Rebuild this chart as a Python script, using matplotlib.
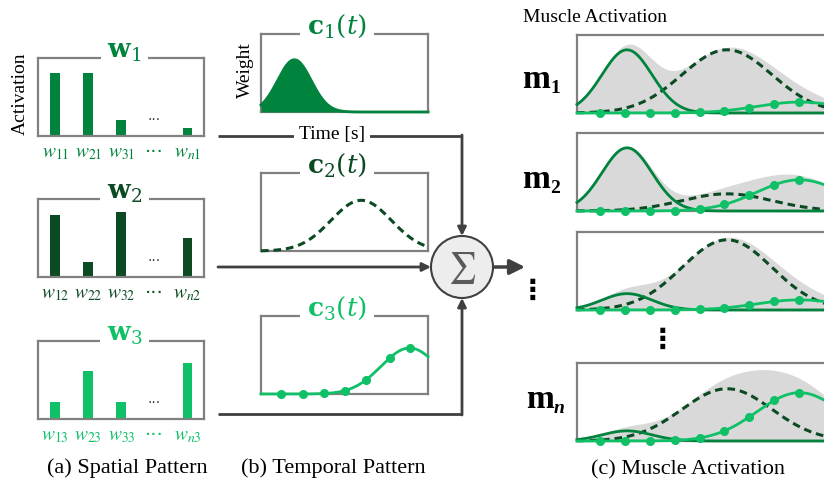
import numpy as np
import matplotlib.pyplot as plt
from matplotlib.patches import Circle

W, H = 824, 486

# spatial patterns: bar heights (fraction of the box height)
w1 = [0.81, 0.81, 0.21, 0.10]
w2 = [0.79, 0.19, 0.87, 0.50]
w3 = [0.22, 0.62, 0.22, 0.72]
bar_pos = [0, 1, 2, 4]
row_ids = ['1', '2', '3']

# temporal patterns: peak time, spread, peak height (inside their own box)
c_peak = [0.20, 0.60, 0.89]
c_width = [0.10, 0.18, 0.17]
c_height = [0.67, 0.65, 0.59]
c3_marks = [0.12, 0.25, 0.38, 0.50, 0.63, 0.77, 0.89]

# muscle activations: height of each temporal pattern in m1, m2, (m3), mn
m_ids = ['1', '2', None, 'n']
m_c1 = [0.81, 0.81, 0.21, 0.13]
m_c2 = [0.81, 0.22, 0.90, 0.67]
m_c3 = [0.14, 0.40, 0.13, 0.62]
m_marks = [0.09, 0.19, 0.29, 0.39, 0.49, 0.59, 0.69, 0.79, 0.89]

G1, G2, G3 = '#00843D', '#0B4A22', '#0FC067'
GREENS = [G1, G2, G3]
EDGE = '#808080'
DARK = '#404040'
SERIF = 'Liberation Serif'

plt.rcParams['mathtext.fontset'] = 'dejavuserif'

fig = plt.figure(figsize=(W / 100, H / 100), dpi=100)
# overlay axes in pixel units, drawn above the panels
bg = fig.add_axes([0, 0, 1, 1], zorder=2)
bg.set_xlim(0, W)
bg.set_ylim(H, 0)
bg.axis('off')
bg.patch.set_facecolor('none')


def box(l, t, r, b):
    ax = fig.add_axes([l / W, 1 - b / H, (r - l) / W, (b - t) / H], zorder=1)
    ax.set_facecolor('none')
    for s in ax.spines.values():
        s.set_color(EDGE)
        s.set_linewidth(1.6)
    ax.set_xticks([])
    ax.set_yticks([])
    ax.set_ylim(0, 1)
    return ax


def title(ax, s, x, color):
    ax.text(x, 1.0, s, transform=ax.transAxes, ha='center', va='baseline',
            fontsize=19, color=color, clip_on=False, zorder=5,
            bbox=dict(boxstyle='square,pad=0.25', facecolor='white', edgecolor='none'))


def gauss(t, k, amp):
    t = np.asarray(t)
    return amp * np.exp(-(t - c_peak[k]) ** 2 / (2 * c_width[k] ** 2))


# ---- (a) spatial patterns
w_tops = [58, 199, 341]
for i, vals in enumerate([w1, w2, w3]):
    ax = box(38, w_tops[i], 204, w_tops[i] + 78)
    ax.bar(bar_pos, vals, width=0.3, color=GREENS[i], zorder=2)
    ax.set_xlim(-0.52, 4.5)
    ax.text(3, 0.2, '···', ha='center', va='center', fontsize=10, color='#333333')
    labs = [rf'$w_{{{j}{row_ids[i]}}}$' for j in ['1', '2', '3']] + ['···', rf'$w_{{n{row_ids[i]}}}$']
    ax.set_xticks([0, 1, 2, 3, 4], labels=labs)
    ax.tick_params(axis='x', length=0, pad=5, labelsize=14, labelcolor=GREENS[i])
    for lab in ax.get_xticklabels():
        lab.set_math_fontfamily('stix')
    title(ax, rf'$\mathbf{{w}}_{row_ids[i]}$', 0.52, GREENS[i])

bg.text(20, 94, 'Activation', rotation=90, ha='center', va='center', fontsize=14, family=SERIF)

# ---- (b) temporal patterns
t = np.linspace(0, 1, 300)
c_tops = [34, 173, 316]
for k in range(3):
    ax = box(261, c_tops[k], 428, c_tops[k] + 78)
    ax.set_xlim(0, 1)
    y = gauss(t, k, c_height[k])
    if k == 0:
        ax.fill_between(t, 0, y, color=G1, lw=0, zorder=3)
        ax.plot(t, y, color=G1, lw=2, zorder=3, clip_on=False)
    elif k == 1:
        ax.plot(t, y, color=G2, lw=2.2, ls=(0, (2.5, 1.6)), zorder=3, clip_on=False)
    else:
        ax.plot(t, y, color=G3, lw=2, zorder=3, clip_on=False)
        ax.plot(c3_marks, gauss(c3_marks, k, c_height[k]), 'o', color=G3, ms=5.5,
                zorder=4, clip_on=False)
    title(ax, rf'$\mathbf{{c}}_{k + 1}(t)$', 0.455, GREENS[k])

bg.text(245, 70, 'Weight', rotation=90, ha='center', va='center', fontsize=14, family=SERIF)

# ---- arrows and sum
bg.plot([218, 462], [136, 136], color=DARK, lw=2, solid_capstyle='butt')
bg.text(332, 134, 'Time [s]', ha='center', va='center', fontsize=14, family=SERIF,
        bbox=dict(boxstyle='square,pad=0.25', facecolor='white', edgecolor='none'))
bg.plot([218, 462], [414, 414], color=DARK, lw=2, solid_capstyle='butt')
arrow = dict(arrowstyle='-|>,head_length=0.5,head_width=0.25', color=DARK, lw=2,
             shrinkA=0, shrinkB=0)
bg.annotate('', xy=(462, 236), xytext=(462, 135), arrowprops=arrow)
bg.annotate('', xy=(462, 298), xytext=(462, 415), arrowprops=arrow)
bg.annotate('', xy=(431, 267), xytext=(218, 267), arrowprops=arrow)
bg.annotate('', xy=(525, 267), xytext=(493, 267),
            arrowprops=dict(arrowstyle='-|>,head_length=0.9,head_width=0.45', color=DARK,
                            lw=2.5, shrinkA=0, shrinkB=0))
bg.add_patch(Circle((462, 267), 31, facecolor='#EDEDED', edgecolor=DARK, lw=1.5, zorder=3))
bg.text(462, 268, r'$\sum$', ha='center', va='center', fontsize=22, color='#5A5A5A',
        math_fontfamily='stix', zorder=4)

# ---- (c) muscle activation
m_tops = [35, 133, 232, 363]
m_base = [88, 188, None, 408]
for i in range(4):
    ax = box(577, m_tops[i], 827, m_tops[i] + 78)
    ax.set_xlim(0, 1)
    y1 = gauss(t, 0, m_c1[i])
    y2 = gauss(t, 1, m_c2[i])
    y3 = gauss(t, 2, m_c3[i])
    ax.fill_between(t, 0, y1 + y2 + y3, color='#D9D9D9', lw=0, zorder=1)
    ax.plot(t, y2, color=G2, lw=2.2, ls=(0, (2.5, 1.6)), zorder=3, clip_on=False)
    ax.plot(t, y1, color=G1, lw=2, zorder=3, clip_on=False)
    ax.plot(t, y3, color=G3, lw=2, zorder=3, clip_on=False)
    ax.plot(m_marks, gauss(m_marks, 2, m_c3[i]), 'o', color=G3, ms=5.5, zorder=4,
            clip_on=False)
    if m_ids[i] is not None:
        x0 = 522 if i < 3 else 526
        bg.text(x0, m_base[i], 'm', ha='left', va='baseline', fontsize=24,
                fontweight='bold', family=SERIF)
        bg.text(x0 + 28, m_base[i] + 5, m_ids[i], ha='left', va='baseline', fontsize=14,
                fontweight='bold', style='italic' if m_ids[i] == 'n' else 'normal',
                family=SERIF)

bg.text(533, 291, '⋮', ha='center', va='center', fontsize=20, fontweight='bold')
bg.text(663, 340, '⋮', ha='center', va='center', fontsize=20, fontweight='bold')
bg.text(523, 17, 'Muscle Activation', ha='left', va='center', fontsize=14, family=SERIF)

# captions
bg.text(127, 468, '(a) Spatial Pattern', ha='center', va='center', fontsize=16, family=SERIF)
bg.text(333, 468, '(b) Temporal Pattern', ha='center', va='center', fontsize=16, family=SERIF)
bg.text(688, 470, '(c) Muscle Activation', ha='center', va='center', fontsize=16, family=SERIF)

fig.savefig('out.png', dpi=100)
